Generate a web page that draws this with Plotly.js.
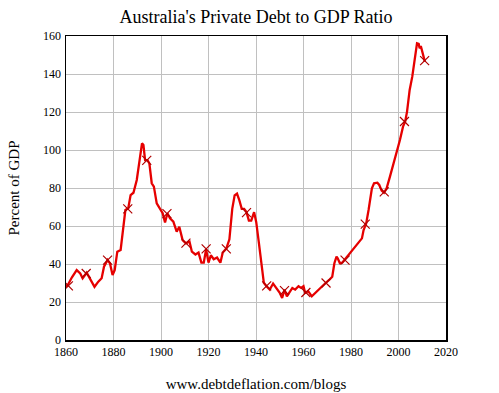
<!DOCTYPE html>
<html>
<head>
<meta charset="utf-8">
<script src="https://cdn.plot.ly/plotly-3.0.1.min.js"></script>
<style>html,body{margin:0;padding:0;background:#fff;}#chart{width:499px;height:393px;}</style>
</head>
<body>
<div id="chart"></div>
<script>
const years = [1860,1861,1862.5,1864.5,1866,1867,1868.7,1870,1871,1872,1873.6,1875,1876,1877.5,1878.5,1879.6,1880.5,1881.6,1883,1884,1885,1886.2,1887.2,1888.4,1889.8,1891.2,1892,1892.6,1893.3,1894.3,1895.1,1896.1,1897,1898.2,1899.6,1900.7,1901.7,1902.7,1903.8,1905.2,1906.6,1907.7,1909.1,1910.5,1912,1913,1914.5,1915.8,1917,1918,1919,1920,1921,1922.2,1923.6,1925,1926,1927.5,1928.8,1930,1931,1932,1933,1934,1935,1936,1937,1938,1939.2,1940.1,1941.2,1942.2,1943.3,1944.4,1945.8,1947.2,1948.6,1950,1951,1952,1953,1954.2,1955.3,1956.5,1957.9,1959,1960,1960.7,1962,1963.5,1965,1967,1969.3,1970.8,1972.1,1973,1973.9,1974.4,1975.3,1976.3,1977.2,1978.6,1980.4,1982.2,1983.6,1984.6,1985.3,1986.4,1987.4,1988.1,1988.8,1989.7,1991.1,1991.9,1992.9,1993.9,1995,1996.4,1997.8,1999.2,2000.6,2001.9,2002.8,2003.6,2004.7,2005.8,2006.8,2007.8,2008.5,2008.9,2009.4,2010,2010.6,2011.1];
const debtRatio = [28,29.5,33,36.8,35,32.5,35.4,32.5,30,28,30.7,32.5,38.6,42.1,40.4,34.2,36.8,46.5,47.4,57.9,68.4,69.3,76.3,77.5,84.2,96.5,103.5,102.6,94.7,94.7,93,82.5,80.7,71.9,69.3,66.7,61.8,66.7,64,62.3,57,59.6,52.6,50.9,51.8,46.5,45,46,40.7,40.7,47.8,40.7,44.6,42.5,43.4,40.7,46,48.1,53,69,76.1,77,73.5,69,69,67.3,62.8,62.8,67.3,62,51.3,40.7,30.1,28.3,26.5,29.7,27.4,24.8,22.1,26.5,23,25.7,27.4,26.5,28.3,27.4,28.3,24.8,25.7,23,24.8,27.6,30,31.6,33.3,40.4,43.9,43,40.4,40.7,42.1,44.7,47.4,50.4,52.3,53.5,57.9,61.4,68.4,73.7,79.8,82.5,82.8,81.6,78.6,77.5,79.8,86,92.1,99.1,105.3,112.3,114.9,120.2,131.6,138.6,147.4,156.1,155.8,153.5,154.7,151.8,148.2,146.5];
const markerYears = [1861,1868.5,1877.5,1886,1894,1902.5,1910.5,1919,1927.5,1936,1944.5,1952,1961,1969.5,1977.5,1986,1994,2002.5,2011];
const markerValues = [28.5,35,42,69,94.5,66.5,51,48,48,67,28.5,26,25,30,42,61,78,115,147];
const xTicks = [1860,1880,1900,1920,1940,1960,1980,2000,2020];
const yTicks = [0,20,40,60,80,100,120,140,160];

const font = "Liberation Serif";
const data = [
  {x: years, y: debtRatio, type: 'scatter', mode: 'lines',
   line: {color: '#e60000', width: 2.3}, hoverinfo: 'skip'},
  {x: markerYears, y: markerValues, type: 'scatter', mode: 'markers',
   marker: {symbol: 'x-thin-open', size: 9, line: {color: '#b00000', width: 1.2}, color: '#b00000'}}
];
const layout = {
  width: 499, height: 393,
  margin: {l: 66, r: 53, t: 36, b: 53},
  paper_bgcolor: '#fff', plot_bgcolor: '#fff',
  showlegend: false,
  font: {family: font, color: '#000', size: 12},
  title: {text: "Australia's Private Debt to GDP Ratio", x: 0.5, xref: 'paper', y: 0.957, yanchor: 'middle',
          font: {family: font, size: 18, color: '#000'}},
  xaxis: {range: [1860, 2020], tickvals: xTicks, ticktext: xTicks.map(String),
          showgrid: true, gridcolor: '#c0c0c0', gridwidth: 1, zeroline: false,
          showline: true, linecolor: '#000', linewidth: 1.5, mirror: true, ticks: '',
          tickfont: {family: font, size: 12, color: '#000'},
          title: {text: 'www.debtdeflation.com/blogs', standoff: 20, font: {family: font, size: 15, color: '#000'}}},
  yaxis: {range: [0, 160], tickvals: yTicks, ticktext: yTicks.map(String),
          showgrid: true, gridcolor: '#c0c0c0', gridwidth: 1, zeroline: false,
          showline: true, linecolor: '#000', linewidth: 1.5, mirror: true, ticks: '', ticklabelstandoff: 1,
          tickfont: {family: font, size: 12, color: '#000'},
          title: {text: 'Percent of GDP', standoff: 20, font: {family: font, size: 15, color: '#000'}}}
};
Plotly.newPlot('chart', data, layout, {displayModeBar: false, staticPlot: true});
</script>
</body>
</html>
